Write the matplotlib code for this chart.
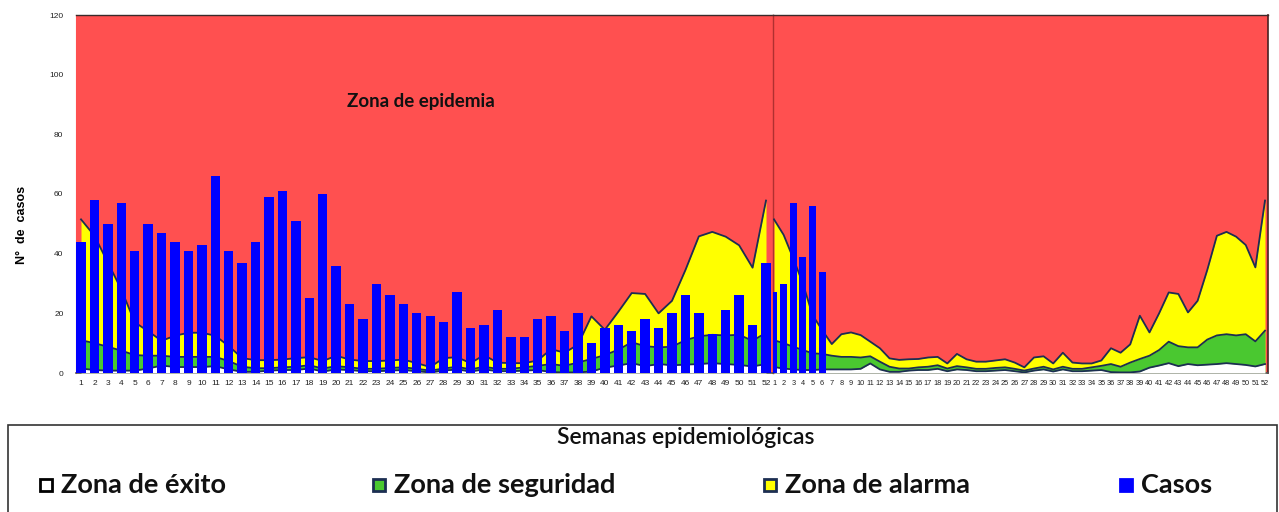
import matplotlib
matplotlib.use("Agg")
import matplotlib.pyplot as plt
from matplotlib.patches import Rectangle
from matplotlib import font_manager

# ---------------- data ----------------
semanas = list(range(1, 53))
etiquetas = [str(s) for s in semanas]

casos_anio1 = [44, 58, 50, 57, 41, 50, 47, 44, 41, 43, 66, 41, 37, 44, 59, 61, 51, 25, 60, 36,
               23, 18, 30, 26, 23, 20, 19, 17, 27, 15, 16, 21, 12, 12, 18, 19, 14, 20, 10, 15,
               16, 14, 18, 15, 20, 26, 20, 13, 21, 26, 16, 37]
casos_anio2 = [27, 30, 57, 39, 56, 34]

exito_anio1 = [1.5, 1.0, 0.8, 0.8, 0.8, 1.5, 2.5, 2.0, 2.0, 2.0, 2.3, 1.2, 0.4, 0.4, 0.8, 1.0, 1.0, 1.5, 0.5, 1.2,
               1.0, 0.6, 0.6, 0.8, 1.0, 0.6, 0.2, 0.8, 1.2, 0.5, 1.2, 0.6, 0.6, 0.8, 1.0, 0.3, 0.2, 0.2, 0.5, 1.8,
               2.5, 3.3, 2.3, 3.0, 2.6, 2.8, 3.0, 3.3, 3.0, 2.7, 2.2, 3.0]
seguridad_anio1 = [11.0, 10.0, 8.8, 7.5, 6.0, 5.8, 5.8, 5.4, 5.4, 5.4, 5.4, 4.0, 2.1, 1.6, 1.6, 1.9, 2.1, 2.6, 1.5, 2.3,
                   1.9, 1.4, 1.4, 1.7, 1.9, 1.4, 0.8, 1.5, 2.1, 1.2, 2.1, 1.4, 1.4, 1.9, 2.4, 3.0, 2.4, 3.5, 4.7, 6.0,
                   7.8, 10.3, 9.0, 8.6, 8.8, 11.0, 12.3, 12.8, 12.6, 12.8, 10.8, 13.5]
alarma_anio1 = [51.5, 46.0, 37.0, 28.0, 17.0, 14.0, 10.8, 12.5, 13.5, 13.5, 12.5, 9.0, 5.0, 4.3, 4.3, 4.5, 5.0, 5.3, 4.0, 5.8,
                4.5, 4.0, 4.0, 4.2, 4.5, 3.3, 2.0, 5.0, 5.3, 3.3, 6.0, 3.5, 3.3, 3.3, 4.2, 8.0, 6.8, 9.5, 19.0, 14.5,
                20.5, 26.8, 26.5, 20.0, 24.2, 34.5, 45.8, 47.3, 45.7, 42.8, 35.3, 57.8]

exito_anio2 = [2.0, 1.5, 1.2, 1.0, 1.0, 1.2, 1.2, 1.2, 1.2, 1.4, 3.2, 1.2, 0.4, 0.4, 0.8, 1.0, 1.0, 1.4, 0.6, 1.2,
               1.0, 0.6, 0.6, 0.8, 1.0, 0.6, 0.2, 0.8, 1.2, 0.5, 1.2, 0.6, 0.6, 0.8, 1.0, 0.3, 0.2, 0.2, 0.5, 1.8,
               2.5, 3.3, 2.3, 3.0, 2.6, 2.8, 3.0, 3.3, 3.0, 2.7, 2.2, 3.0]
seguridad_anio2 = [11.0, 10.0, 8.8, 7.7, 6.6, 6.4, 5.8, 5.4, 5.4, 5.2, 5.6, 3.8, 2.1, 1.5, 1.5, 1.9, 2.1, 2.6, 1.5, 2.3,
                   1.9, 1.4, 1.4, 1.7, 1.9, 1.4, 0.8, 1.5, 2.1, 1.2, 2.1, 1.4, 1.4, 1.9, 2.4, 3.0, 2.1, 3.5, 4.7, 5.8,
                   7.7, 10.5, 9.0, 8.6, 8.6, 11.2, 12.6, 13.0, 12.6, 13.0, 10.6, 14.2]
alarma_anio2 = [51.5, 46.3, 38.4, 30.0, 19.4, 14.4, 9.7, 13.0, 13.6, 12.7, 10.5, 8.3, 4.9, 4.4, 4.6, 4.7, 5.2, 5.4, 3.2, 6.4,
                4.6, 3.8, 3.8, 4.2, 4.6, 3.5, 1.9, 5.2, 5.6, 3.2, 6.8, 3.5, 3.2, 3.2, 4.2, 8.3, 6.8, 9.6, 19.2, 13.6,
                20.0, 27.0, 26.5, 20.3, 24.2, 34.5, 46.0, 47.3, 45.7, 42.9, 35.4, 57.8]

ymax = 120
yticks = [0, 20, 40, 60, 80, 100, 120]

# ---------------- style ----------------
def pick(names):
    for n in names:
        try:
            font_manager.findfont(n, fallback_to_default=False)
            return n
        except Exception:
            pass
    return "DejaVu Sans"

F_TITLE = pick(["Lato", "Open Sans", "DejaVu Sans"])
F_AX = pick(["Liberation Sans", "DejaVu Sans"])

ROJO = "#FF5050"
AMARILLO = "#FFFF00"
VERDE = "#4AC830"
BLANCO = "#FFFFFF"
AZUL = "#0000FF"
LINEA = "#1C2E52"

fig = plt.figure(figsize=(12.79, 5.12), dpi=100)
W, H = 1279.0, 512.0

left1, right1, right2 = 76 / W, 773 / W, 1268 / W
bottom, top = 1 - 373 / H, 1 - 15 / H

ax1 = fig.add_axes([left1, bottom, right1 - left1, top - bottom])
ax2 = fig.add_axes([right1, bottom, right2 - right1, top - bottom])


def draw_year(ax, exito, seguridad, alarma, casos, bar_w, fs):
    ax.set_facecolor(ROJO)
    ax.fill_between(semanas, 0, alarma, color=AMARILLO, zorder=1, lw=0)
    ax.fill_between(semanas, 0, seguridad, color=VERDE, zorder=2, lw=0)
    ax.fill_between(semanas, 0, exito, color=BLANCO, zorder=3, lw=0)
    for serie in (alarma, seguridad, exito):
        ax.plot(semanas, serie, color=LINEA, lw=1.3, zorder=4)
    ax.bar(semanas[:len(casos)], casos, width=bar_w, color=AZUL, zorder=5, lw=0)
    ax.set_ylim(0, ymax)
    ax.set_xticks(semanas)
    ax.set_xticklabels(etiquetas, fontsize=fs, family=F_AX, color="#222222")
    ax.tick_params(axis="x", length=0, pad=5)


draw_year(ax1, exito_anio1, seguridad_anio1, alarma_anio1, casos_anio1, 0.7, 6)
ax1.set_xlim(1 - 5 / 13.43, 52 + 7 / 13.43)
draw_year(ax2, exito_anio2, seguridad_anio2, alarma_anio2, casos_anio2, 0.72, 5.3)
ax2.set_xlim(1 - 1 / 9.63, 52 + 3 / 9.63)

ax1.set_yticks(yticks)
ax1.set_yticklabels([str(v) for v in yticks], fontsize=6, family=F_AX, color="#222222")
ax1.tick_params(axis="y", length=0, pad=9)
ax2.set_yticks([])

for ax in (ax1, ax2):
    ax.spines["top"].set_color("#3a2a2a")
    ax.spines["top"].set_linewidth(1.0)
    ax.spines["bottom"].set_color("#555555")
    ax.spines["bottom"].set_linewidth(1.2)
ax1.spines["left"].set_color(ROJO)
ax1.spines["right"].set_visible(False)
ax2.spines["left"].set_color("#B03030")
ax2.spines["left"].set_linewidth(1.0)
ax2.spines["right"].set_color("#4a2020")
ax2.spines["right"].set_linewidth(1.2)

ax1.set_ylabel("N°  de  casos", fontsize=9, fontweight="bold", family=F_AX)
ax1.yaxis.set_label_coords((28 - 76) / 697.0, (373 - 225) / 358.0)

fig.text(421 / W, 1 - 101 / H, "Zona de epidemia", fontsize=13.5, fontweight="bold",
         family=F_TITLE, ha="center", va="center", color="#111111")

# legend box
fig.add_artist(Rectangle((8 / W, -0.05), (1277 - 8) / W, (512 - 425) / H + 0.05,
                         transform=fig.transFigure, fill=False, edgecolor="#333333", lw=1.2))
fig.text(686 / W, 1 - 438 / H, "Semanas epidemiológicas", fontsize=16.5, fontweight="semibold",
         family=F_TITLE, ha="center", va="center", color="#111111")

leyenda = [("Zona de éxito", BLANCO, "#000000", 40),
           ("Zona de seguridad", VERDE, LINEA, 373),
           ("Zona de alarma", AMARILLO, LINEA, 764),
           ("Casos", AZUL, AZUL, 1120)]
for texto, fc, ec, x in leyenda:
    fig.add_artist(Rectangle((x / W, 1 - 491 / H), 12 / W, 12 / H, transform=fig.transFigure,
                             facecolor=fc, edgecolor=ec, lw=2))
    fig.text((x + 21) / W, 1 - 485 / H, texto, fontsize=19.5, fontweight="bold", family=F_TITLE,
             ha="left", va="center", color="#111111")

fig.savefig("out.png", dpi=100)
